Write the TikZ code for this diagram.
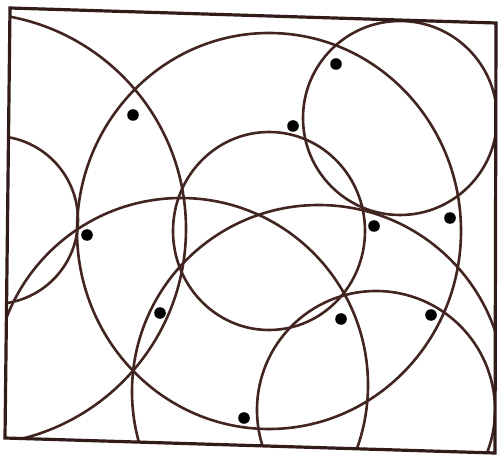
\documentclass[tikz,border=0pt]{standalone}
\definecolor{ink}{RGB}{66,36,32}
\definecolor{frameink}{RGB}{50,28,26}
\begin{document}
\begin{tikzpicture}[x=1pt,y=-1pt,
  arcline/.style={draw=ink, line width=2.6pt},
  frameline/.style={draw=frameink, line width=3.2pt, line join=miter},
  dotmark/.style={fill=black}]
\useasboundingbox (0,0) rectangle (498,457);
\coordinate (tl) at (10,8);
\coordinate (tr) at (496,23);
\coordinate (br) at (495,453);
\coordinate (bl) at (5,438);
\begin{scope}
  \clip (tl) -- (tr) -- (br) -- (bl) -- cycle;
  \draw[arcline] (-6,220) circle[radius=84pt];          % small left
  \draw[arcline] (-30,229) circle[radius=216pt];        % big left
  \draw[arcline] (269,231) ellipse[x radius=192pt, y radius=198pt]; % big centre
  \draw[arcline] (269,231) ellipse[x radius=96pt, y radius=99pt];   % middle
  \draw[arcline] (400,118) circle[radius=97pt];         % top right
  \draw[arcline] (318.6,391.6) circle[radius=186.6pt];  % lower right big
  \draw[arcline] (181,385) circle[radius=187pt];        % lower left big
  \draw[arcline] (376,410) circle[radius=119pt];        % lower right small
\end{scope}
\draw[frameline] (tl) -- (tr) -- (br) -- (bl) -- cycle;
\foreach \p in {(133,115),(336,64),(293,126),(374,226),(450,218),(87,235),(160,313),(341,319),(431,315),(244,418)}
  \fill[dotmark] \p circle[radius=5.8pt];
\end{tikzpicture}
\end{document}
